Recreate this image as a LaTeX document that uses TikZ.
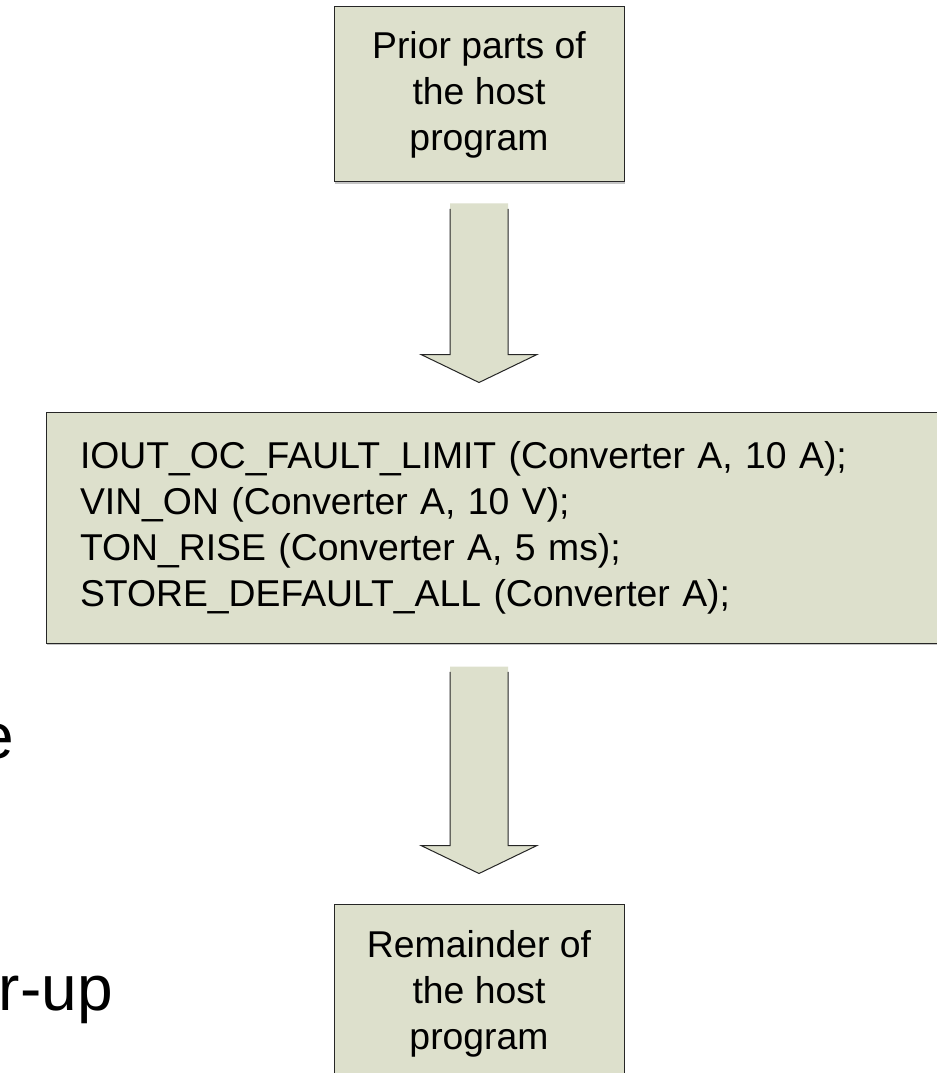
\documentclass[tikz,border=0pt]{standalone}
\usepackage{fontspec}
\setmainfont{Liberation Sans}
\usetikzlibrary{calc,shadows}
\definecolor{boxfill}{RGB}{221,224,204}
\tikzset{
  stepbox/.style={draw=black!85, line width=0.75pt, fill=boxfill, inner sep=0pt,
    align=center, font=\fontsize{28pt}{34.5pt}\selectfont,
    drop shadow={shadow xshift=1pt, shadow yshift=-1.2pt, fill=black!45}},
  fragment/.style={inner sep=0pt, font=\fontsize{48pt}{57.6pt}\selectfont},
  arrowline/.style={draw=black!85, line width=0.75pt, line join=miter},
}
% hollow block arrow from the top of its shaft (#1) to its tip (#2)
\newcommand\blockarrow[2]{%
  \fill[boxfill] let \p1=(#1), \p2=(#2) in
    (\x1-21.75pt,\y1) -- (\x1-21.75pt,\y2+21pt) -- (\x1-43.5pt,\y2+21pt) --
    (\x1,\y2) -- (\x1+43.5pt,\y2+21pt) -- (\x1+21.75pt,\y2+21pt) --
    (\x1+21.75pt,\y1) -- cycle;
  \draw[arrowline] let \p1=(#1), \p2=(#2) in
    (\x1-21.75pt,\y1-4pt) -- (\x1-21.75pt,\y2+21pt) -- (\x1-43.5pt,\y2+21pt) --
    (\x1,\y2) -- (\x1+43.5pt,\y2+21pt) -- (\x1+21.75pt,\y2+21pt) --
    (\x1+21.75pt,\y1-4pt);
}
\begin{document}
\begin{tikzpicture}[x=0.75pt,y=-0.75pt]
\useasboundingbox (0,0) rectangle (937,1073);
\clip (0,0) rectangle (937,1073);
\fill[white] (0,0) rectangle (937,1073);

% flow of the host program
\node[stepbox, minimum width=217.5pt, minimum height=131.25pt] (prior)
  at (479,94.5) {Prior parts of\\the host\\program};
\node[stepbox, minimum width=685.5pt, minimum height=173.25pt,
  text width=634.5pt, inner xsep=25.5pt, align=left] (cmds) at (503,527.5)
  {IOUT\_OC\_FAULT\_LIMIT (Converter A, 10 A);\\
   VIN\_ON (Converter A, 10 V);\\
   TON\_RISE (Converter A, 5 ms);\\
   STORE\_DEFAULT\_ALL (Converter A);};
\node[stepbox, minimum width=217.5pt, minimum height=134.1pt] (rest)
  at (479,993.4) {Remainder of\\the host\\program};

% arrows between the steps
\coordinate (a1s) at ($(prior.south)+(0,21)$);
\coordinate (a1t) at ($(prior.south |- cmds.north)+(0,-29)$);
\coordinate (a2s) at ($(prior.south |- cmds.south)+(0,23)$);
\coordinate (a2t) at ($(rest.north)+(0,-30)$);
\blockarrow{a1s}{a1t}
\blockarrow{a2s}{a2t}

% text cut off at the left margin
\node[fragment, anchor=base east] (fragA) at (14.5,758) {e};
\node[fragment, anchor=base east] (fragB) at (113,1010) {r-up};
\end{tikzpicture}
\end{document}
